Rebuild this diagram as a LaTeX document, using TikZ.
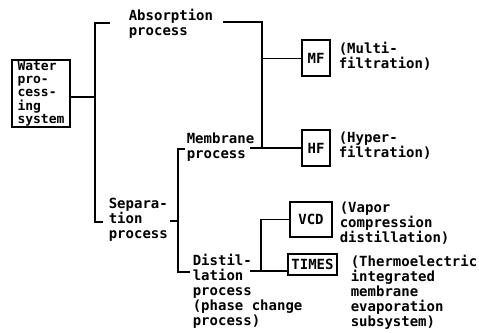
\documentclass[tikz,border=0pt]{standalone}
\usepackage{fontspec}
\newfontfamily\dotfont{DejaVu Sans Mono}
\newcommand{\lbfont}{\dotfont\bfseries\fontsize{14}{15}\selectfont}

\begin{document}
\begin{tikzpicture}[x=1pt,y=-1pt,line width=1.6pt,
  lbl/.style={font=\lbfont,align=left,anchor=north west,inner sep=0pt,
              execute at begin node=\strut},
  unit/.style={draw,line width=1.7pt,inner sep=0pt,font=\lbfont}]
  \useasboundingbox (0,0) rectangle (479,332);
  % system box
  \node[unit,minimum width=58pt,minimum height=67pt,align=left,
        font=\dotfont\bfseries\fontsize{13}{13.2}\selectfont] (water) at (41,93.5)
        {Water\\pro-\\cess-\\ing\\system};
  % first level
  \node[lbl] (absorb) at (128,8.5) {Absorption\\process};
  \node[lbl] (separ) at (108,197.5) {Separa-\\tion\\process};
  \coordinate (sysbar) at (95,97);
  \coordinate (absin) at (110,23);
  \coordinate (sepin) at (103,222);
  \draw (water.east |- sysbar) -- (sysbar);
  \draw (absin) -- ++(-15,0) |- (sepin);
  % second level
  \node[lbl] (membr) at (186,132.5) {Membrane\\process};
  \node[lbl] (distil) at (192,253.5) {Distil-\\lation\\process\\(phase change\\process)};
  \coordinate (sepout) at (170,221);
  \coordinate (memin) at (185,149);
  \coordinate (distin) at (190,272);
  \draw (sepout) -- ++(8,0);
  \draw (memin) -- ++(-7,0) |- (distin);
  % filtration units
  \node[unit,minimum width=28pt,minimum height=36pt] (mf) at (316,58) {MF};
  \node[unit,minimum width=28pt,minimum height=36pt] (hf) at (316,148) {HF};
  \node[lbl] (mftxt) at (338,41.5) {(Multi-\\filtration)};
  \node[lbl] (hftxt) at (338,131.5) {(Hyper-\\filtration)};
  \coordinate (absout) at (223,22);
  \coordinate (memjoin) at (262,148);
  \coordinate (memout) at (250,148);
  \draw (absout) -| (memjoin);
  \draw (memout) -- (hf.west);
  \draw[line width=1pt] (mf.west) -- (mf.west -| memjoin);
  % distillation units
  \node[unit,minimum width=42pt,minimum height=35pt] (vcd) at (311,219.5) {VCD};
  \node[unit,minimum width=49pt,minimum height=21pt] (times) at (312.5,264.5) {TIMES};
  \node[lbl] (vcdtxt) at (339,201.5) {(Vapor\\compression\\distillation)};
  \node[lbl] (timestxt) at (350,254.5) {(Thermoelectric\\integrated\\membrane\\evaporation\\subsystem)};
  \coordinate (distout) at (250,271);
  \coordinate (distbus) at (261,271);
  \draw (distout) -- (distout -| times.west);
  \draw (distbus) |- (vcd.west);
\end{tikzpicture}
\end{document}
